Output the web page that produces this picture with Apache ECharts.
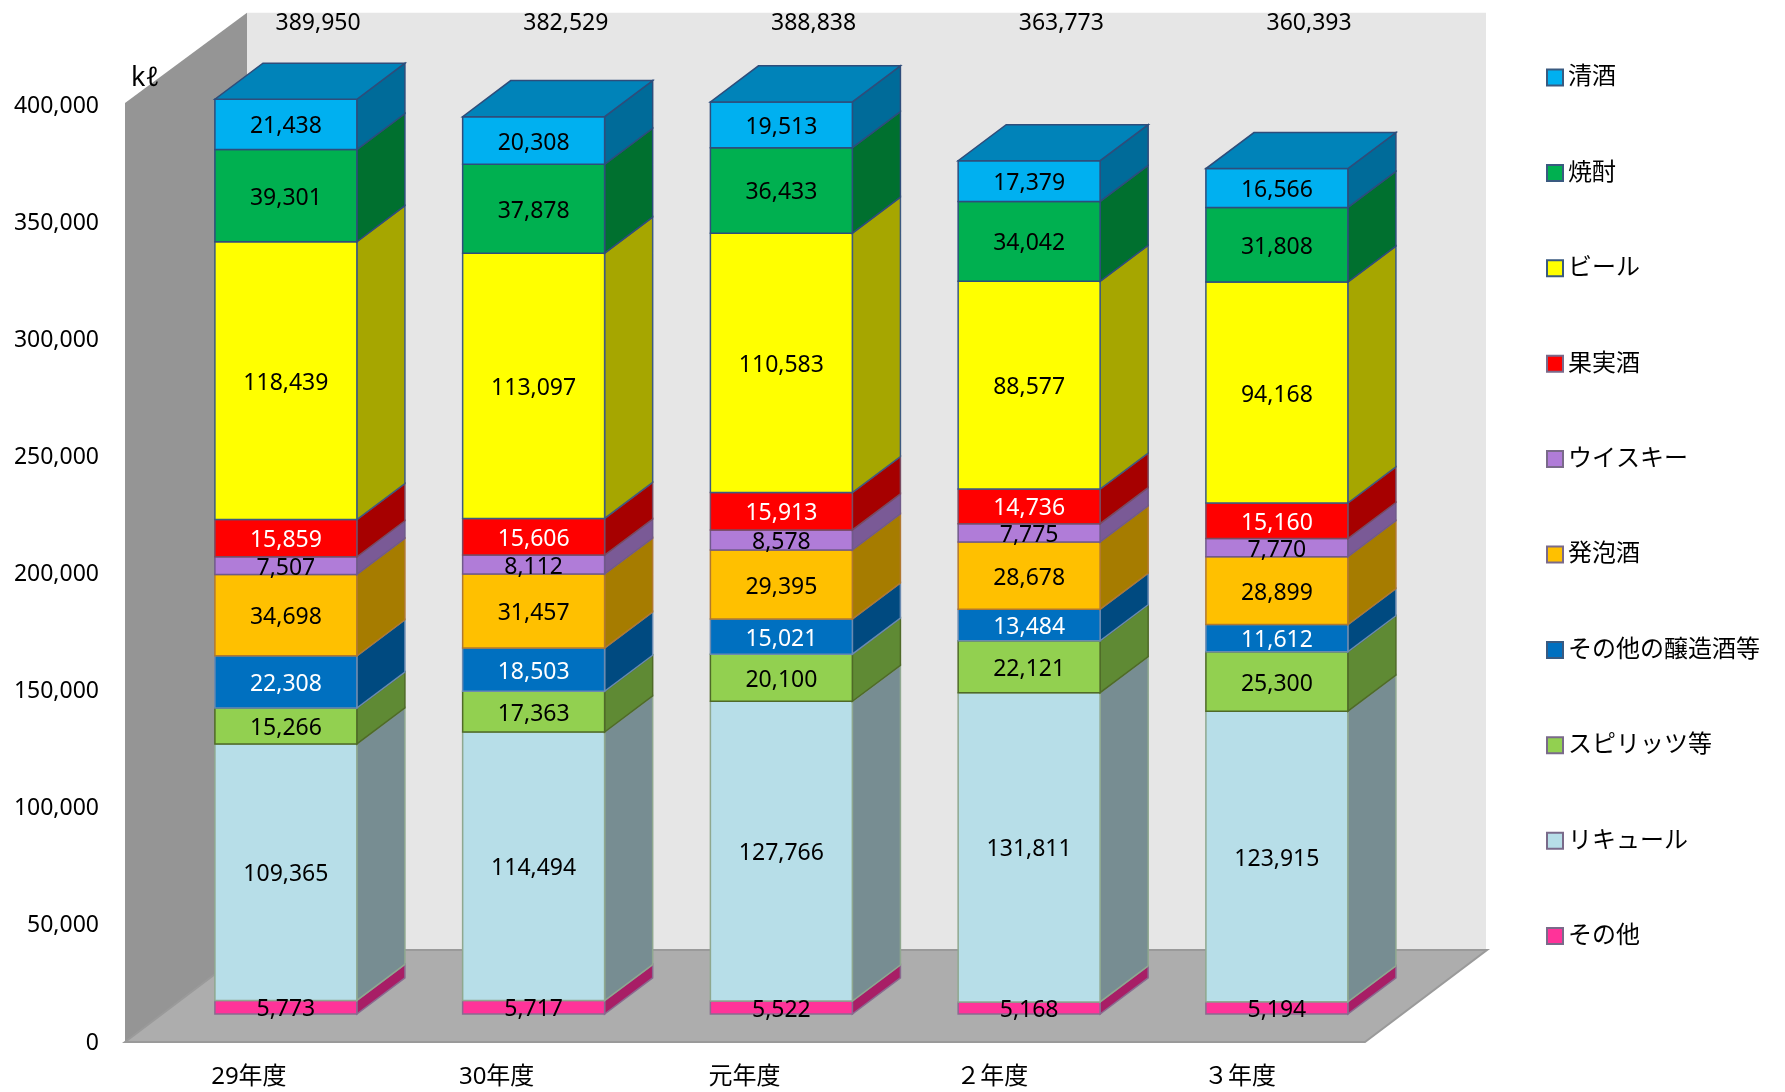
<!DOCTYPE html>
<html><head><meta charset="utf-8">
<script src="https://cdn.jsdelivr.net/npm/echarts@6/dist/echarts.min.js"></script>
<style>html,body{margin:0;padding:0;background:#fff}#c{width:1785px;height:1092px}</style>
</head><body><div id="c"></div>
<script>
// ---- data ----
const years = ['29年度', '30年度', '元年度', '２年度', '３年度'];
const seriesNames = ['その他', 'リキュール', 'スピリッツ等', 'その他の醸造酒等', '発泡酒', 'ウイスキー', '果実酒', 'ビール', '焼酎', '清酒'];
const sonota    = [5773, 5717, 5522, 5168, 5194];
const liqueur   = [109365, 114494, 127766, 131811, 123915];
const spirits   = [15266, 17363, 20100, 22121, 25300];
const jozoOther = [22308, 18503, 15021, 13484, 11612];
const happoshu  = [34698, 31457, 29395, 28678, 28899];
const whisky    = [7507, 8112, 8578, 7775, 7770];
const kajitsu   = [15859, 15606, 15913, 14736, 15160];
const beer      = [118439, 113097, 110583, 88577, 94168];
const shochu    = [39301, 37878, 36433, 34042, 31808];
const seishu    = [21438, 20308, 19513, 17379, 16566];
const totals    = [389950, 382529, 388838, 363773, 360393];
const yMin = 0, yMax = 400000, yInterval = 50000;

// ---- styles ----
const valueSets = [sonota, liqueur, spirits, jozoOther, happoshu, whisky, kajitsu, beer, shochu, seishu];
const FRONT = ['#ff3399', '#b7dee8', '#92d050', '#0070c0', '#ffc000', '#b07cd8', '#ff0000', '#ffff00', '#00b050', '#00b0f0'];
const SIDE  = ['#a81e66', '#778d92', '#5f8a34', '#004a80', '#a67c00', '#7a5a96', '#a60000', '#a6a600', '#00702f', '#006b99'];
const EDGE  = ['#8a6a90', '#8fa88f', '#4f6a28', '#6a8ab0', '#b07830', '#705a8a', '#7a4a60', '#3d5a80', '#2e4d7b', '#2e4d7b'];
const LBL   = ['#000', '#000', '#000', '#fff', '#000', '#000', '#fff', '#000', '#000', '#000'];
const TOPC  = '#0083b9';
const FONT = '"Noto Sans", "Noto Sans CJK JP", sans-serif';
const fmt = v => Number(v).toLocaleString('en-US');

// cumulative stacks
const stacks = [];
const run = years.map(() => 0);
valueSets.forEach((vals, s) => {
  stacks.push(vals.map((v, i) => { const b = run[i]; run[i] += v; return [i, b, b + v, v]; }));
});

function makeRender(s) {
  const isTop = s === valueSets.length - 1;
  return function (params, api) {
    const idx = api.value(0), base = api.value(1), top = api.value(2), val = api.value(3);
    const p0 = api.coord([idx, base]);
    const p1 = api.coord([idx, top]);
    const band = api.size([1, 0])[0];
    const w = band * 0.573, dx = band * 0.194, dy = -dx * 0.75;
    const xl = p0[0] - w / 2, xr = p0[0] + w / 2, yb = p0[1], yt = p1[1];
    const ch = [
      { type: 'polygon', shape: { points: [[xr, yb], [xr, yt], [xr + dx, yt + dy], [xr + dx, yb + dy]] },
        style: { fill: SIDE[s], stroke: EDGE[s], lineWidth: 1.5 } },
      { type: 'rect', shape: { x: xl, y: yt, width: w, height: yb - yt },
        style: { fill: FRONT[s], stroke: EDGE[s], lineWidth: 1.5 } }
    ];
    if (isTop) {
      ch.push({ type: 'polygon', shape: { points: [[xl, yt], [xr, yt], [xr + dx, yt + dy], [xl + dx, yt + dy]] },
        style: { fill: TOPC, stroke: EDGE[s], lineWidth: 1.5 } });
    }
    ch.push({ type: 'text', z2: 100, x: p0[0], y: (yb + yt) / 2 + 2.5,
      style: { text: fmt(val), fill: LBL[s], font: '23px ' + FONT, align: 'center', verticalAlign: 'middle' } });
    return { type: 'group', children: ch };
  };
}

const series = valueSets.map((vals, s) => ({
  name: seriesNames[s], type: 'custom', xAxisIndex: 1, yAxisIndex: 1,
  itemStyle: { color: FRONT[s], borderColor: EDGE[s] },
  renderItem: makeRender(s), data: stacks[s], z: 2
}));
series.push({
  name: 'total', type: 'custom', xAxisIndex: 1, yAxisIndex: 1, z: 3, silent: true,
  data: totals.map((t, i) => [i, t]),
  renderItem: function (params, api) {
    const i = api.value(0);
    const p = api.coord([i, yMax]);
    const band = api.size([1, 0])[0];
    return { type: 'text', x: p[0] + band * 0.13, y: p[1] - 52.5,
      style: { text: fmt(api.value(1)), fill: '#000', font: '23px ' + FONT, align: 'center', verticalAlign: 'middle' } };
  }
});

const legendData = seriesNames.slice().reverse().map(n => {
  const s = seriesNames.indexOf(n);
  return { name: n, icon: 'rect', itemStyle: { color: FRONT[s], borderColor: s >= 7 || s === 3 ? '#3a5a80' : '#7a6a8a', borderWidth: 2 } };
});

const chart = echarts.init(document.getElementById('c'), null, { renderer: 'canvas' });
chart.setOption({
  backgroundColor: '#fff',
  animation: false,
  textStyle: { fontFamily: FONT },
  graphic: [
    { type: 'rect', z: 0, shape: { x: 247, y: 12.7, width: 1239, height: 937.3 }, style: { fill: '#e6e6e6' } },
    { type: 'polygon', z: 0, shape: { points: [[125, 103], [247, 12.7], [247, 950], [125, 1042]] }, style: { fill: '#959595' } },
    { type: 'polygon', z: 0, shape: { points: [[125, 1042], [247, 950], [1487, 950], [1365, 1042]] },
      style: { fill: '#adadad', stroke: '#9a9a9a', lineWidth: 2 } },
    { type: 'text', z: 5, x: 131, y: 78, style: { text: 'kℓ', fill: '#000', font: '27px ' + FONT, verticalAlign: 'middle' } }
  ],
  legend: {
    orient: 'vertical', left: 1541, top: 60.5, itemWidth: 16, itemHeight: 16, itemGap: 71.4,
    selectedMode: false, data: legendData,
    textStyle: { fontSize: 24, lineHeight: 24, color: '#000', fontFamily: FONT }
  },
  grid: [
    { left: 125, width: 1238.75, top: 106, bottom: 49 },
    { left: 162, width: 1238.75, top: 75.7, bottom: 78 }
  ],
  xAxis: [
    { type: 'category', gridIndex: 0, data: years, axisLine: { show: false }, axisTick: { show: false },
      axisLabel: { fontSize: 24, color: '#000', margin: 22, fontFamily: FONT } },
    { type: 'category', gridIndex: 1, data: years, show: false }
  ],
  yAxis: [
    { type: 'value', gridIndex: 0, min: yMin, max: yMax, interval: yInterval,
      axisLine: { show: false }, axisTick: { show: false }, splitLine: { show: false },
      axisLabel: { fontSize: 23, color: '#000', margin: 26, formatter: v => fmt(v), fontFamily: FONT } },
    { type: 'value', gridIndex: 1, min: yMin, max: yMax, show: false, splitLine: { show: false } }
  ],
  series: series
});
</script>
</body></html>
